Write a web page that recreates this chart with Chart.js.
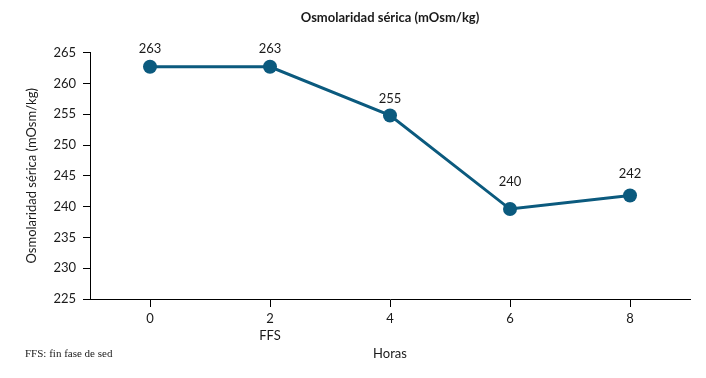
<!DOCTYPE html>
<html>
<head>
<meta charset="utf-8">
<script src="https://cdn.jsdelivr.net/npm/chart.js@4.4.1/dist/chart.umd.min.js"></script>
<style>
html,body{margin:0;padding:0;background:#fff;}
#wrap{width:706px;height:378px;position:relative;}
</style>
</head>
<body>
<div id="wrap"><canvas id="c" width="706" height="378"></canvas></div>
<script>
const categories = ['0', ['2', 'FFS'], '4', '6', '8'];
const osmolaridad = [262.7, 262.7, 254.8, 239.6, 241.8];
const pointLabels = ['263', '263', '255', '240', '242'];
const yTicks = [225, 230, 235, 240, 245, 250, 255, 260, 265];

const FONT = 'Lato, "Open Sans", sans-serif';
const LINE = '#0b5a7e';
const LABEL_LIFT = [18, 18, 17, 27, 22];

const extras = {
  id: 'extras',
  afterDatasetsDraw(chart) {
    const ctx = chart.ctx;
    const meta = chart.getDatasetMeta(0);
    ctx.save();
    ctx.fillStyle = '#1a1a1a';
    ctx.font = '13px ' + FONT;
    ctx.textAlign = 'center';
    ctx.textBaseline = 'middle';
    meta.data.forEach((pt, i) => {
      ctx.fillText(pointLabels[i], pt.x, pt.y - LABEL_LIFT[i]);
    });
    ctx.font = '11px "Liberation Serif", serif';
    ctx.textAlign = 'left';
    ctx.fillText('FFS: fin fase de sed', 25, 354);
    ctx.restore();
  }
};

new Chart(document.getElementById('c'), {
  type: 'line',
  data: {
    labels: categories,
    datasets: [{
      data: osmolaridad,
      borderColor: LINE,
      backgroundColor: LINE,
      borderWidth: 3,
      pointRadius: 7,
      pointHoverRadius: 7,
      pointBackgroundColor: LINE,
      pointBorderWidth: 0,
      tension: 0,
      fill: false
    }]
  },
  options: {
    responsive: false,
    animation: false,
    devicePixelRatio: 1,
    layout: { padding: { left: 0, right: 16, top: 0, bottom: 0 } },
    plugins: {
      legend: { display: false },
      tooltip: { enabled: false },
      title: {
        display: true,
        fullSize: false,
        text: 'Osmolaridad sérica (mOsm/kg)',
        color: '#1a1a1a',
        font: { family: FONT, size: 13, weight: 'bold', lineHeight: 1.2 },
        padding: { top: 10, bottom: 27 }
      }
    },
    scales: {
      x: {
        type: 'category',
        offset: true,
        afterFit(scale) { scale.height = 79; },
        border: { display: true, color: '#000', width: 1 },
        grid: { display: true, drawOnChartArea: false, drawTicks: true, tickLength: 8, color: '#000', offset: false },
        ticks: { color: '#1a1a1a', font: { family: FONT, size: 13, lineHeight: 1.3 }, padding: 3, maxRotation: 0, autoSkip: false },
        title: {
          display: true,
          text: 'Horas',
          color: '#1a1a1a',
          font: { family: FONT, size: 13, lineHeight: 1.2 },
          padding: { top: 0, bottom: 16 }
        }
      },
      y: {
        min: 225,
        max: 265,
        afterFit(scale) { scale.width = 90; },
        afterBuildTicks(scale) { scale.ticks = yTicks.map(v => ({ value: v })); },
        border: { display: true, color: '#000', width: 1 },
        grid: { display: true, drawOnChartArea: false, drawTicks: true, tickLength: 7, color: '#000' },
        ticks: { color: '#1a1a1a', font: { family: FONT, size: 13 }, padding: 7 },
        title: {
          display: true,
          text: 'Osmolaridad sérica (mOsm/kg)',
          color: '#1a1a1a',
          font: { family: FONT, size: 13, lineHeight: 1.2 },
          padding: { top: 24, bottom: 0 }
        }
      }
    }
  },
  plugins: [extras]
});
</script>
</body>
</html>
